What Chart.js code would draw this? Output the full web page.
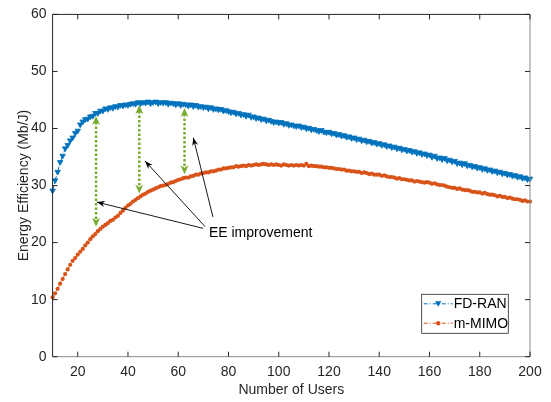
<!DOCTYPE html>
<html>
<head>
<meta charset="utf-8">
<script src="https://cdn.jsdelivr.net/npm/chart.js@4.4.0/dist/chart.umd.min.js"></script>
<style>
  html, body { margin: 0; padding: 0; background: #fff; }
  #wrap { width: 551px; height: 402px; }
</style>
</head>
<body>
<div id="wrap"><canvas id="grafico" width="551" height="402"></canvas></div>
<script>
// number of users on the x axis: 10, 11, ..., 200
const usuarios = Array.from({ length: 191 }, (_, i) => 10 + i);

// FD-RAN energy efficiency (Mb/J), one value per user count
const fdRan = [
  29.1, 30.9, 32.4, 34.1, 35.2, 36.5, 37.1, 37.9, 38.4, 39.2,
  39.6, 40.7, 41.2, 41.6, 41.7, 42.1, 42.2, 42.7, 42.7, 43.1,
  43.1, 43.5, 43.4, 43.7, 43.6, 43.9, 43.8, 44.1, 44.0, 44.2,
  44.1, 44.3, 44.4, 44.3, 44.6, 44.4, 44.6, 44.5, 44.7, 44.4,
  44.6, 44.7, 44.4, 44.6, 44.5, 44.6, 44.3, 44.5, 44.4, 44.2,
  44.4, 44.1, 44.3, 44.2, 44.0, 44.2, 43.9, 44.1, 43.8, 43.9,
  43.7, 43.8, 43.5, 43.7, 43.4, 43.5, 43.3, 43.4, 43.1, 43.2,
  43.0, 42.8, 42.9, 42.6, 42.7, 42.4, 42.5, 42.2, 42.4, 42.0,
  42.1, 41.8, 41.9, 41.6, 41.7, 41.4, 41.5, 41.3, 41.1, 41.2,
  41.0, 41.1, 40.8, 40.9, 40.6, 40.7, 40.5, 40.4, 40.5, 40.2,
  40.3, 40.0, 40.1, 39.8, 39.9, 39.7, 39.5, 39.7, 39.4, 39.3,
  39.4, 39.1, 39.2, 38.9, 39.0, 38.7, 38.8, 38.5, 38.6, 38.3,
  38.4, 38.1, 38.2, 37.9, 38.0, 37.7, 37.8, 37.5, 37.6, 37.3,
  37.4, 37.1, 37.2, 36.9, 37.0, 36.7, 36.8, 36.5, 36.6, 36.3,
  36.4, 36.1, 36.2, 35.9, 36.0, 35.7, 35.8, 35.5, 35.6, 35.3,
  35.4, 35.0, 35.2, 34.8, 34.9, 34.6, 34.8, 34.4, 34.5, 34.2,
  34.3, 33.9, 34.0, 33.7, 33.9, 33.5, 33.6, 33.3, 33.4, 33.1,
  33.2, 32.9, 33.0, 32.7, 32.8, 32.5, 32.6, 32.3, 32.4, 32.1,
  32.2, 31.9, 32.0, 31.7, 31.8, 31.5, 31.6, 31.3, 31.4, 31.1,
  31.2
];

// m-MIMO energy efficiency (Mb/J)
const mMimo = [
  10.4, 11.1, 11.9, 12.8, 13.6, 14.5, 15.3, 16.1, 16.8, 17.3,
  17.9, 18.4, 18.9, 19.5, 20.0, 20.6, 21.1, 21.5, 22.0, 22.4,
  22.8, 23.1, 23.4, 23.8, 24.0, 24.4, 24.7, 25.2, 25.6, 26.1,
  26.5, 26.8, 27.2, 27.5, 27.8, 28.1, 28.4, 28.6, 28.9, 29.1,
  29.3, 29.5, 29.7, 29.9, 30.0, 30.1, 30.3, 30.5, 30.6, 30.8,
  31.0, 31.1, 31.3, 31.4, 31.4, 31.6, 31.7, 31.9, 31.9, 32.1,
  32.2, 32.3, 32.3, 32.5, 32.5, 32.6, 32.8, 32.8, 33.0, 33.0,
  33.1, 33.2, 33.2, 33.4, 33.3, 33.4, 33.5, 33.4, 33.6, 33.5,
  33.6, 33.7, 33.6, 33.7, 33.8, 33.7, 33.6, 33.7, 33.6, 33.7,
  33.6, 33.5, 33.7, 33.6, 33.5, 33.6, 33.5, 33.6, 33.5, 33.6,
  33.5, 33.8, 33.4, 33.5, 33.4, 33.4, 33.3, 33.3, 33.2, 33.2,
  33.1, 33.1, 33.0, 32.9, 32.9, 32.8, 32.8, 32.6, 32.6, 32.5,
  32.5, 32.4, 32.4, 32.2, 32.3, 32.2, 32.0, 32.1, 31.9, 31.9,
  31.9, 31.7, 31.8, 31.6, 31.5, 31.5, 31.4, 31.2, 31.3, 31.1,
  31.1, 31.0, 30.9, 30.9, 30.7, 30.8, 30.7, 30.6, 30.5, 30.6,
  30.5, 30.3, 30.4, 30.2, 30.1, 30.1, 30.0, 29.8, 29.7, 29.6,
  29.6, 29.4, 29.5, 29.3, 29.2, 29.2, 29.1, 28.9, 28.9, 28.8,
  28.8, 28.6, 28.7, 28.5, 28.4, 28.4, 28.3, 28.1, 28.2, 28.0,
  28.0, 27.8, 27.9, 27.7, 27.6, 27.6, 27.5, 27.3, 27.4, 27.2,
  27.2
];

const xTicks = [20, 40, 60, 80, 100, 120, 140, 160, 180, 200];
const yTicks = [0, 10, 20, 30, 40, 50, 60];

// green double arrows (gap between the curves)
const flechaX = [27.3, 44.5, 62.5];
const flechaArriba = [42.2, 44.1, 43.6];
const flechaAbajo = [22.8, 28.6, 32.0];

// black arrows from the label to the gaps
const puntaX = [27.6, 46.8, 66.0];
const puntaY = [27.1, 34.3, 38.4];
const colaX = [69.9, 70.7, 73.8];
const colaY = [22.5, 22.8, 24.5];
const etiqueta = { texto: 'EE improvement', x: 72.2, y: 21.6 };

const FUENTE = '"Liberation Sans", Arial, Helvetica, sans-serif';
const AZUL = '#0072BD';
const NARANJA = '#D95319';
const VERDE = '#77AC30';
const TEXTO = '#262626';

function cabeza(ctx, x1, y1, x2, y2, largo, ancho, color) {
  // filled arrow head with a small notch at the back, tip at (x2, y2)
  const ang = Math.atan2(y2 - y1, x2 - x1);
  ctx.save();
  ctx.translate(x2, y2);
  ctx.rotate(ang);
  ctx.beginPath();
  ctx.moveTo(0, 0);
  ctx.lineTo(-largo, -ancho / 2);
  ctx.lineTo(-largo * 0.7, 0);
  ctx.lineTo(-largo, ancho / 2);
  ctx.closePath();
  ctx.fillStyle = color;
  ctx.fill();
  ctx.restore();
}

const marco = {
  id: 'marco',
  afterDatasetsDraw(chart) {
    const ctx = chart.ctx;
    const xs = chart.scales.x, ys = chart.scales.y;

    // green dotted double arrows
    for (let i = 0; i < flechaX.length; i++) {
      const px = xs.getPixelForValue(flechaX[i]);
      const pTop = ys.getPixelForValue(flechaArriba[i]);
      const pBot = ys.getPixelForValue(flechaAbajo[i]);
      ctx.save();
      ctx.strokeStyle = VERDE;
      ctx.lineWidth = 2.5;
      ctx.setLineDash([2.5, 2]);
      ctx.beginPath();
      ctx.moveTo(px, pTop + 6);
      ctx.lineTo(px, pBot - 6);
      ctx.stroke();
      ctx.restore();
      cabeza(ctx, px, pBot, px, pTop, 9, 8, VERDE);
      cabeza(ctx, px, pTop, px, pBot, 9, 8, VERDE);
    }

    // black arrows
    for (let i = 0; i < puntaX.length; i++) {
      const x1 = xs.getPixelForValue(colaX[i]), y1 = ys.getPixelForValue(colaY[i]);
      const x2 = xs.getPixelForValue(puntaX[i]), y2 = ys.getPixelForValue(puntaY[i]);
      ctx.save();
      ctx.strokeStyle = '#000';
      ctx.lineWidth = 0.9;
      ctx.beginPath();
      ctx.moveTo(x1, y1);
      ctx.lineTo(x2, y2);
      ctx.stroke();
      ctx.restore();
      cabeza(ctx, x1, y1, x2, y2, 8, 6, '#000');
    }

    ctx.save();
    ctx.font = '14px ' + FUENTE;
    ctx.fillStyle = '#000';
    ctx.textAlign = 'left';
    ctx.textBaseline = 'middle';
    ctx.fillText(etiqueta.texto, xs.getPixelForValue(etiqueta.x), ys.getPixelForValue(etiqueta.y));
    ctx.restore();
  },
  afterDraw(chart) {
    const ctx = chart.ctx;
    const { left, right, top, bottom } = chart.chartArea;
    const xs = chart.scales.x, ys = chart.scales.y;
    const t = 5;

    ctx.save();
    ctx.lineWidth = 1;
    // box
    ctx.strokeStyle = '#8a8a8a';
    ctx.beginPath();
    ctx.moveTo(left, bottom); ctx.lineTo(right, bottom);
    ctx.moveTo(right, bottom); ctx.lineTo(right, top);
    ctx.stroke();
    ctx.strokeStyle = TEXTO;
    ctx.beginPath();
    ctx.moveTo(left, bottom); ctx.lineTo(left, top);
    ctx.lineTo(right, top);
    ctx.stroke();

    // inward ticks
    ctx.beginPath();
    xTicks.forEach(v => {
      const px = xs.getPixelForValue(v);
      ctx.moveTo(px, bottom); ctx.lineTo(px, bottom - t);
      ctx.moveTo(px, top); ctx.lineTo(px, top + t);
    });
    yTicks.forEach(v => {
      const py = ys.getPixelForValue(v);
      ctx.moveTo(left, py); ctx.lineTo(left + t, py);
      ctx.moveTo(right, py); ctx.lineTo(right - t, py);
    });
    ctx.stroke();

    // legend
    const bx1 = right - 108.3, bx2 = right - 21.7;
    const by1 = bottom - 62.4, by2 = bottom - 23.4;
    ctx.fillStyle = '#fff';
    ctx.fillRect(bx1, by1, bx2 - bx1, by2 - by1);
    ctx.strokeStyle = TEXTO;
    ctx.lineWidth = 0.8;
    ctx.strokeRect(bx1, by1, bx2 - bx1, by2 - by1);
    chart.data.datasets.forEach((ds, i) => {
      const ly = by1 + 9.5 + i * 19.4;
      const lx1 = bx1 + 2, lx2 = bx1 + 31;
      ctx.strokeStyle = ds.borderColor;
      ctx.lineWidth = 1;
      ctx.setLineDash([4, 2, 1, 2]);
      ctx.beginPath();
      ctx.moveTo(lx1, ly); ctx.lineTo(lx2, ly);
      ctx.stroke();
      ctx.setLineDash([]);
      const cx = (lx1 + lx2) / 2;
      ctx.fillStyle = ds.borderColor;
      ctx.beginPath();
      if (ds.pointStyle === 'triangle') {
        ctx.moveTo(cx - 3.2, ly - 2.5);
        ctx.lineTo(cx + 3.2, ly - 2.5);
        ctx.lineTo(cx, ly + 3);
        ctx.closePath();
      } else {
        ctx.arc(cx, ly, 2.2, 0, Math.PI * 2);
      }
      ctx.fill();
      ctx.fillStyle = '#000';
      ctx.font = '14px ' + FUENTE;
      ctx.textAlign = 'left';
      ctx.textBaseline = 'middle';
      ctx.fillText(ds.label, lx2 + 1, ly + 0.5);
    });
    ctx.restore();
  }
};

const ctx = document.getElementById('grafico').getContext('2d');
new Chart(ctx, {
  type: 'line',
  data: {
    datasets: [
      {
        label: 'FD-RAN',
        data: usuarios.map((u, i) => ({ x: u, y: fdRan[i] })),
        borderColor: AZUL,
        backgroundColor: AZUL,
        borderWidth: 1,
        borderDash: [5, 2, 1, 2],
        pointStyle: 'triangle',
        rotation: 180,
        pointRadius: 3.2,
        pointBorderWidth: 0.8,
        pointBackgroundColor: AZUL,
        pointBorderColor: AZUL,
        tension: 0,
        clip: false
      },
      {
        label: 'm-MIMO',
        data: usuarios.map((u, i) => ({ x: u, y: mMimo[i] })),
        borderColor: NARANJA,
        backgroundColor: NARANJA,
        borderWidth: 1,
        borderDash: [5, 2, 1, 2],
        pointStyle: 'circle',
        pointRadius: 2.1,
        pointBorderWidth: 0,
        pointBackgroundColor: NARANJA,
        tension: 0,
        clip: false
      }
    ]
  },
  options: {
    responsive: false,
    animation: false,
    devicePixelRatio: 1,
    layout: { padding: { top: 10, right: 21, left: 0, bottom: 0 } },
    plugins: { legend: { display: false }, tooltip: { enabled: false } },
    scales: {
      x: {
        type: 'linear',
        min: 10,
        max: 200,
        afterBuildTicks: s => { s.ticks = xTicks.map(v => ({ value: v })); },
        afterFit: s => { s.height = 45.3; },
        grid: { display: false, drawTicks: false },
        border: { display: false },
        ticks: { color: TEXTO, font: { family: FUENTE, size: 14 }, padding: 7, maxRotation: 0 },
        title: { display: true, text: 'Number of Users', color: TEXTO, font: { family: FUENTE, size: 14 }, padding: { top: 0, bottom: 3 } }
      },
      y: {
        min: 0,
        max: 60,
        afterBuildTicks: s => { s.ticks = yTicks.map(v => ({ value: v })); },
        afterFit: s => { s.width = 52.6; },
        grid: { display: false, drawTicks: false },
        border: { display: false },
        ticks: { color: TEXTO, font: { family: FUENTE, size: 14 }, padding: 6 },
        title: { display: true, text: 'Energy Efficiency (Mb/J)', color: TEXTO, font: { family: FUENTE, size: 14 }, padding: { top: 15.6, bottom: 0 } }
      }
    }
  },
  plugins: [marco]
});
</script>
</body>
</html>
